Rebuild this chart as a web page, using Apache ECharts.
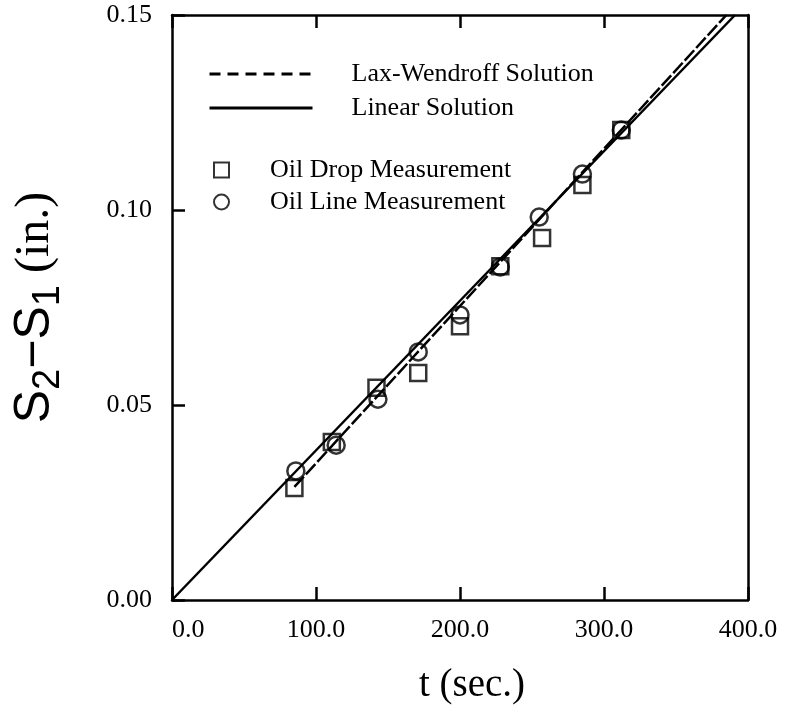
<!DOCTYPE html>
<html>
<head>
  <meta charset="utf-8">
  <script src="https://cdn.jsdelivr.net/npm/echarts@6/dist/echarts.min.js"></script>
  <style>
    body { margin: 0; background: #fff; }
    #main { width: 790px; height: 715px; }
  </style>
</head>
<body>
  <div id="main"></div>
  <script>
    // readings taken off the plot
    var xTicks = [0, 100, 200, 300, 400];
    var yTicks = [0, 0.05, 0.10, 0.15];

    var dropT = [85, 111, 142, 171, 200, 228, 257, 285, 312];
    var dropS = [0.0287, 0.0405, 0.0544, 0.0582, 0.0702, 0.0856, 0.0928, 0.1064, 0.1205];

    var lineT = [86, 114, 143, 171, 200, 228, 255, 285, 312];
    var lineS = [0.0331, 0.0397, 0.0515, 0.0636, 0.0731, 0.0854, 0.0982, 0.1092, 0.1205];

    // linear solution through origin, lax-wendroff from first reading
    var linearT = [0, 391];
    var linearS = [0, 0.15];
    var laxT = [85, 385];
    var laxS = [0.0290, 0.15];

    var serif = 'Liberation Serif';
    var chart = echarts.init(document.getElementById('main'));

    function pairs(a, b) {
      return a.map(function (v, i) { return [v, b[i]]; });
    }

    function axisLine() { return { show: true, onZero: false, lineStyle: { color: '#000', width: 2.5 } }; }
    function tick() { return { show: true, inside: true, length: 13, lineStyle: { color: '#000', width: 2.5 } }; }

    var option = {
      animation: false,
      backgroundColor: '#fff',
      grid: { left: 172, right: 42, top: 15, bottom: 115 },
      legend: [
        {
          left: 203, top: 56, orient: 'vertical', itemGap: 8,
          itemWidth: 103, itemHeight: 14,
          itemStyle: { opacity: 0 },
          textStyle: { fontFamily: serif, fontSize: 26, color: '#000', padding: [0, 0, 0, 34] },
          data: [
            { name: 'Lax-Wendroff Solution', lineStyle: { type: [11, 7], width: 3 } },
            { name: 'Linear Solution', lineStyle: { width: 3 } }
          ]
        },
        {
          left: 208, top: 152, orient: 'vertical', itemGap: 6,
          itemWidth: 15, itemHeight: 15,
          textStyle: { fontFamily: serif, fontSize: 26, color: '#000', padding: [0, 0, 0, 36] },
          data: ['Oil Drop Measurement', 'Oil Line Measurement']
        }
      ],
      xAxis: [
        {
          type: 'value', min: xTicks[0], max: xTicks[xTicks.length - 1], interval: 100,
          name: 't (sec.)', nameLocation: 'middle', nameGap: 66,
          nameTextStyle: { fontFamily: serif, fontSize: 39, color: '#000', padding: [0, 0, 0, 24] },
          axisLine: axisLine(), axisTick: tick(), splitLine: { show: false },
          axisLabel: {
            fontFamily: serif, fontSize: 26, color: '#000', margin: 17,
            alignMinLabel: 'left',
            formatter: function (v) { return v.toFixed(1); }
          }
        },
        {
          type: 'value', position: 'top', min: 0, max: 400, interval: 100,
          axisLine: axisLine(), axisTick: tick(), splitLine: { show: false },
          axisLabel: { show: false }
        }
      ],
      yAxis: [
        {
          type: 'value', min: yTicks[0], max: yTicks[yTicks.length - 1], interval: 0.05,
          name: '{s|S}{sub|2}{s|−S}{sub|1}{p| (in.)}', nameLocation: 'middle', nameGap: 104,
          nameRotate: 90,
          nameTextStyle: {
            color: '#000',
            rich: {
              s: { fontFamily: 'Liberation Sans', fontSize: 50, color: '#000' },
              sub: { fontFamily: 'Liberation Sans', fontSize: 38, color: '#000', padding: [27, 0, 0, 0] },
              p: { fontFamily: serif, fontSize: 48, color: '#000' }
            }
          },
          axisLine: axisLine(), axisTick: tick(), splitLine: { show: false },
          axisLabel: {
            fontFamily: serif, fontSize: 26, color: '#000', margin: 20,
            formatter: function (v) { return v.toFixed(2); }
          }
        },
        {
          type: 'value', position: 'right', min: 0, max: 0.15, interval: 0.05,
          axisLine: axisLine(), axisTick: { show: false }, splitLine: { show: false },
          axisLabel: { show: false }
        }
      ],
      series: [
        {
          name: 'Lax-Wendroff Solution', type: 'line', symbol: 'none',
          data: pairs(laxT, laxS),
          lineStyle: { color: '#000', width: 2.5, type: [14, 3] },
          itemStyle: { color: '#000' }
        },
        {
          name: 'Linear Solution', type: 'line', symbol: 'none',
          data: pairs(linearT, linearS),
          lineStyle: { color: '#000', width: 2.5 },
          itemStyle: { color: '#000' }
        },
        {
          name: 'Oil Drop Measurement', type: 'scatter', symbol: 'rect', symbolSize: 16,
          data: pairs(dropT, dropS),
          itemStyle: { color: 'rgba(255,255,255,0)', borderColor: '#000', borderWidth: 2.5 }
        },
        {
          name: 'Oil Line Measurement', type: 'scatter', symbol: 'circle', symbolSize: 17,
          data: pairs(lineT, lineS),
          itemStyle: { color: 'rgba(255,255,255,0)', borderColor: '#000', borderWidth: 2.5 }
        }
      ]
    };

    chart.setOption(option);
  </script>
</body>
</html>
